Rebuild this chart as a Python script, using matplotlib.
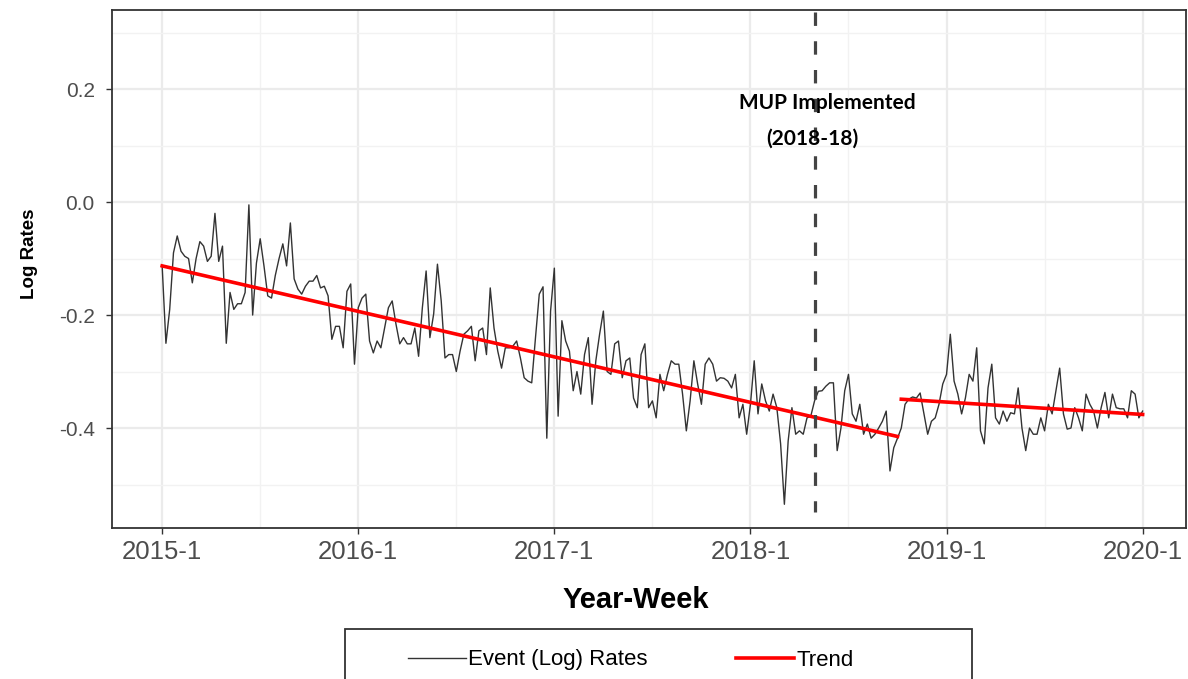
import matplotlib.pyplot as plt
from matplotlib.patches import Rectangle

# weekly event log rates, 2015-1 .. 2020-1
log_rates = [
    -0.113, -0.25, -0.19, -0.09, -0.06, -0.087, -0.096, -0.10, -0.143, -0.10,
    -0.07, -0.078, -0.105, -0.096, -0.02, -0.105, -0.078, -0.25, -0.16, -0.19,
    -0.18, -0.18, -0.16, -0.005, -0.20, -0.108, -0.065, -0.113, -0.166, -0.17,
    -0.13, -0.10, -0.074, -0.113, -0.037, -0.136, -0.154, -0.163, -0.149, -0.14,
    -0.14, -0.13, -0.152, -0.149, -0.166, -0.243, -0.22, -0.22, -0.258, -0.158,
    -0.145, -0.287, -0.187, -0.17, -0.163, -0.246, -0.267, -0.246, -0.258, -0.223,
    -0.187, -0.175, -0.216, -0.251, -0.24, -0.251, -0.251, -0.223, -0.273, -0.187,
    -0.122, -0.24, -0.198, -0.11, -0.175, -0.276, -0.27, -0.27, -0.30, -0.264,
    -0.234, -0.228, -0.22, -0.281, -0.228, -0.223, -0.27, -0.152, -0.223, -0.264,
    -0.294, -0.258, -0.258, -0.255, -0.246, -0.276, -0.311, -0.317, -0.32, -0.24,
    -0.163, -0.15, -0.418, -0.193, -0.117, -0.379, -0.21, -0.246, -0.264, -0.334,
    -0.30, -0.34, -0.27, -0.24, -0.358, -0.281, -0.234, -0.193, -0.30, -0.305,
    -0.251, -0.246, -0.311, -0.281, -0.276, -0.347, -0.364, -0.27, -0.251, -0.364,
    -0.352, -0.382, -0.305, -0.334, -0.305, -0.281, -0.287, -0.287, -0.34, -0.405,
    -0.352, -0.281, -0.322, -0.358, -0.287, -0.276, -0.287, -0.317, -0.311, -0.312,
    -0.317, -0.329, -0.305, -0.382, -0.358, -0.411, -0.358, -0.281, -0.375, -0.322,
    -0.352, -0.37, -0.34, -0.364, -0.428, -0.535, -0.423, -0.364, -0.411, -0.405,
    -0.411, -0.382, -0.379, -0.352, -0.335, -0.334, -0.326, -0.32, -0.32, -0.44,
    -0.40, -0.334, -0.305, -0.375, -0.388, -0.358, -0.411, -0.393, -0.418, -0.411,
    -0.40, -0.388, -0.37, -0.476, -0.435, -0.418, -0.40, -0.358, -0.349, -0.345,
    -0.347, -0.338, -0.375, -0.411, -0.388, -0.382, -0.358, -0.322, -0.305, -0.234,
    -0.317, -0.34, -0.375, -0.347, -0.305, -0.317, -0.258, -0.405, -0.428, -0.329,
    -0.287, -0.382, -0.393, -0.37, -0.388, -0.373, -0.375, -0.329, -0.40, -0.44,
    -0.40, -0.411, -0.411, -0.382, -0.405, -0.358, -0.375, -0.334, -0.294, -0.375,
    -0.402, -0.40, -0.364, -0.382, -0.405, -0.34, -0.358, -0.37, -0.40, -0.364,
    -0.337, -0.382, -0.34, -0.364, -0.366, -0.366, -0.382, -0.334, -0.34, -0.382,
    -0.37,
]
weeks = list(range(len(log_rates)))

# piecewise linear trend (before / after the break)
trend1_weeks = [0, 195]
trend1_vals = [-0.113, -0.415]
trend2_weeks = [196, 260]
trend2_vals = [-0.349, -0.376]

tick_weeks = [0, 52, 104, 156, 208, 260]
tick_labels = ["2015-1", "2016-1", "2017-1", "2018-1", "2019-1", "2020-1"]
mup_week = 173  # 2018-18

plt.rcParams['font.family'] = ['Liberation Sans', 'DejaVu Sans']

fig = plt.figure(figsize=(11.88, 6.79), dpi=100)
ax = fig.add_axes([112 / 1188, 1 - 528 / 679, (1186 - 112) / 1188, (528 - 10) / 679])

# grid: major + minor like theme_bw
ax.set_xticks(tick_weeks)
ax.set_xticks([26, 78, 130, 182, 234], minor=True)
ax.set_yticks([0.2, 0.0, -0.2, -0.4])
ax.set_yticks([0.3, 0.1, -0.1, -0.3, -0.5], minor=True)
ax.set_xticklabels(tick_labels)
ax.set_yticklabels(["0.2", "0.0", "-0.2", "-0.4"])
ax.grid(which='major', color='#ebebeb', linewidth=1.6)
ax.grid(which='minor', color='#f2f2f2', linewidth=1.0)
ax.set_axisbelow(True)
ax.tick_params(which='minor', length=0)
ax.tick_params(which='major', direction='out', length=4.5, width=1,
               color='#333333', labelcolor='#4d4d4d')
ax.tick_params(axis='y', labelsize=15, pad=8)
ax.tick_params(axis='x', labelsize=18.5, pad=4)

for s in ax.spines.values():
    s.set_color('#333333')
    s.set_linewidth(1.3)

ax.set_xlim(-13.3, 271.5)
ax.set_ylim(-0.577, 0.34)

line_ev, = ax.plot(weeks, log_rates, color='#333333', linewidth=1.0, label='Event (Log) Rates')
line_tr, = ax.plot(trend1_weeks, trend1_vals, color='red', linewidth=2.6, label='Trend')
ax.plot(trend2_weeks, trend2_vals, color='red', linewidth=2.6)

# intervention marker, dashes start from the top
ax.plot([mup_week, mup_week], [0.336, -0.549], color='#444444',
        linestyle=(0, (4.2, 4.8)), linewidth=2.3)

ax.text(mup_week + 3.5, 0.175, "MUP Implemented", family=['Lato', 'DejaVu Sans'],
        fontweight='bold', fontsize=15, ha='center', va='center', color='black')
ax.text(mup_week - 0.5, 0.113, "(2018-18)", family=['Lato', 'DejaVu Sans'],
        fontweight='bold', fontsize=15, ha='center', va='center', color='black')

ax.set_xlabel("Year-Week", fontsize=21, fontweight='bold')
ax.xaxis.set_label_coords((636 - 112) / 1074, (528 - 586) / 518)
ax.set_ylabel("Log Rates", fontsize=13.5, fontweight='bold')
ax.yaxis.set_label_coords((38 - 112) / 1074, (528 - 254) / 518)

# legend box, running off the bottom edge
fig.patches.append(Rectangle((345 / 1188, -0.05), (972 - 345) / 1188, 0.05 + 1 - 629 / 679,
                             transform=fig.transFigure, fill=False,
                             edgecolor='#333333', linewidth=1.3))
fig.legend(handles=[line_ev, line_tr], loc='center', bbox_to_anchor=(0.531, 1 - 660 / 679),
           ncol=2, frameon=False, fontsize=16, handlelength=2.6,
           handletextpad=0.1, columnspacing=4.0)

fig.savefig("out.png", dpi=100)
